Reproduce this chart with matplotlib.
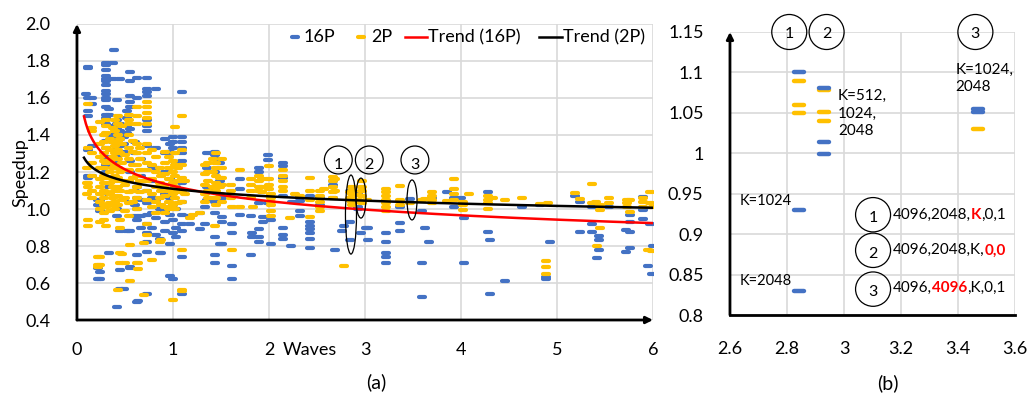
import numpy as np
import matplotlib
matplotlib.use("Agg")
import matplotlib.pyplot as plt
from matplotlib.patches import Ellipse
from matplotlib.markers import MarkerStyle

plt.rcParams['font.family'] = ['Lato', 'DejaVu Sans']

BLUE = '#4472C4'
ORANGE = '#FFC000'
GRID = '#d9d9d9'
RED = '#ff0000'

# ---- panel (a): speedup vs waves, column x -> list of y ----
cols16 = [0.09, 0.12, 0.16, 0.22, 0.24, 0.30, 0.33, 0.38, 0.39, 0.42, 0.45, 0.49, 0.52, 0.55,
          0.60, 0.63, 0.64, 0.67, 0.73, 0.78, 0.82, 0.86, 0.88, 0.92, 0.97, 1.00, 1.03, 1.09,
          1.18, 1.28, 1.33, 1.35, 1.44, 1.49, 1.51, 1.61, 1.62, 1.70, 1.81, 1.82, 1.90, 1.94,
          1.99, 2.02, 2.15, 2.23, 2.24, 2.32, 2.43, 2.53, 2.67, 2.69, 2.76, 2.78, 2.84, 2.93,
          2.96, 3.01, 3.03, 3.22, 3.36, 3.47, 3.59, 3.63, 3.67, 3.70, 3.85, 3.93, 3.995, 4.03,
          4.28, 4.30, 4.46, 4.64, 4.82, 4.89, 4.93, 5.19, 5.24, 5.36, 5.42, 5.44, 5.545, 5.72,
          5.76, 5.90, 5.95, 5.97, 5.985, 6.0]
vals16 = [[1.62],
          [1.77, 1.76, 1.60, 1.53, 1.50, 1.32, 1.18, 1.17],
          [1.60, 1.57, 1.34, 1.18],
          [0.68, 0.62, 1.05, 1.02],
          [1.05, 0.99, 0.66, 0.62],
          [1.79, 1.78, 1.75, 1.72, 1.70, 1.69, 1.67, 1.64, 1.62, 1.60, 1.59, 1.55, 1.51, 1.49,
           1.46, 1.40, 1.37, 1.33, 1.28, 1.24, 1.20],
          [1.54, 1.51, 0.76, 1.12, 1.08],
          [1.79, 1.70, 1.45, 1.40, 1.36],
          [1.86],
          [1.59, 1.48, 1.46, 1.44, 1.42, 1.40, 1.38, 1.36, 1.34, 1.32, 1.30, 1.28, 1.25, 1.22,
           1.00, 0.96, 0.47],
          [1.70, 1.46, 1.42, 1.38, 1.34, 1.30, 0.88, 0.67, 0.57],
          [1.39, 1.35, 1.31, 1.05, 0.57],
          [1.53, 1.49, 1.45, 1.41, 0.88],
          [1.74, 1.69, 1.61, 1.58, 1.55, 1.43, 1.26, 1.20, 0.88, 0.685, 0.68],
          [1.36, 1.30, 1.10, 1.02, 0.96],
          [1.71, 1.60, 1.12, 1.06, 1.00, 0.94, 0.75, 0.50],
          [0.505],
          [1.27, 1.18, 1.05, 0.96, 0.90],
          [1.71, 1.65, 1.63, 1.61, 1.48, 1.45, 1.42, 1.34, 1.10, 1.03, 0.97, 0.92, 0.87, 0.82,
           0.77, 0.54],
          [1.23, 1.15, 1.06, 0.98, 0.90],
          [1.65, 1.33, 1.22, 1.05, 0.95, 0.86],
          [1.12, 1.00, 0.84, 0.76],
          [0.76],
          [1.38, 1.30, 1.20, 1.08, 0.99, 0.93, 0.88],
          [1.35, 1.31, 1.16, 1.06, 0.97, 0.81, 0.64],
          [1.39, 1.36, 1.33, 1.30, 1.10, 1.02, 0.94, 0.87, 0.62],
          [1.25, 1.12, 1.00, 0.90, 0.85],
          [1.63, 1.39, 1.36, 1.33, 1.30, 1.26, 1.14, 1.04, 0.97, 0.92, 0.88, 0.74, 0.54],
          [0.96, 0.92],
          [0.98, 0.89],
          [1.01, 0.92],
          [1.30, 1.22, 1.12, 1.05],
          [1.31, 1.29, 1.27, 1.20, 1.10, 1.04, 0.98, 0.85, 0.75, 0.71],
          [1.25, 1.15, 0.81],
          [1.06, 0.955, 0.93, 0.81],
          [0.92, 0.87],
          [0.69, 0.62],
          [1.16, 1.11, 0.97],
          [0.96, 0.75],
          [0.87, 0.85],
          [1.22, 1.20, 1.03, 0.89, 0.85, 0.82],
          [0.955, 0.93],
          [1.29, 1.265, 1.03],
          [0.94, 0.81],
          [1.25, 1.23, 1.17, 1.07, 0.90, 0.86, 0.84],
          [0.80],
          [1.04],
          [1.06, 1.045, 0.99, 0.96],
          [1.07, 0.93, 0.91, 0.89, 0.87, 0.84, 0.79],
          [1.06, 1.02],
          [1.15, 1.13, 1.06],
          [0.78],
          [0.88],
          [0.91],
          [1.10, 0.93, 0.83],
          [1.08, 1.013, 1.00],
          [0.87],
          [0.90],
          [0.90, 0.83],
          [0.868, 0.823, 0.76, 0.74, 0.71],
          [1.01, 0.926, 0.883],
          [1.053],
          [0.99, 0.706, 0.526],
          [0.90],
          [0.82],
          [1.057],
          [1.094],
          [1.01, 1.06],
          [1.06],
          [0.95, 0.71],
          [1.09, 0.875],
          [0.83, 0.54],
          [0.61],
          [1.01],
          [1.02],
          [0.634, 0.62],
          [0.823],
          [1.07],
          [1.04, 0.875],
          [1.01, 0.92, 0.874],
          [0.737],
          [0.854, 0.83, 0.78],
          [1.009],
          [0.886, 0.766],
          [0.967, 0.93, 0.874, 0.79],
          [1.063, 0.995, 0.944],
          [0.694],
          [0.92],
          [0.648],
          [0.80]]

cols2 = [0.10, 0.12, 0.16, 0.22, 0.24, 0.28, 0.30, 0.34, 0.38, 0.40, 0.43, 0.45, 0.47, 0.50,
         0.54, 0.55, 0.58, 0.63, 0.64, 0.66, 0.70, 0.73, 0.78, 0.82, 0.86, 0.88, 0.92, 0.96,
         1.00, 1.02, 1.05, 1.09, 1.13, 1.18, 1.21, 1.28, 1.33, 1.37, 1.42, 1.44, 1.45, 1.49,
         1.51, 1.60, 1.62, 1.70, 1.81, 1.83, 1.90, 1.93, 1.995, 2.02, 2.15, 2.22, 2.27, 2.32,
         2.43, 2.53, 2.57, 2.67, 2.69, 2.78, 2.84, 2.86, 2.93, 2.97, 3.02, 3.22, 3.36, 3.47,
         3.59, 3.62, 3.70, 3.85, 3.93, 4.02, 4.08, 4.28, 4.33, 4.46, 4.64, 4.82, 4.89, 4.91,
         5.19, 5.24, 5.36, 5.41, 5.42, 5.45, 5.545, 5.725, 5.76, 5.90, 5.945, 5.97, 5.985, 6.0]
vals2 = [[1.22, 1.14, 1.08],
         [1.57, 1.33, 1.14, 1.12, 0.94, 0.91],
         [1.44, 1.42, 1.30, 1.25, 1.18, 1.10, 1.06],
         [0.74, 0.70, 0.685],
         [1.47, 1.35, 1.28, 1.22, 1.16, 1.12, 1.08, 1.04, 1.00, 0.93, 0.74, 0.70],
         [1.40, 1.36, 1.30, 1.26, 1.22, 1.18, 1.14, 1.10, 1.06, 1.02, 0.98, 0.94],
         [1.48, 1.45, 1.41, 1.33, 1.25, 1.17, 1.09, 1.01, 0.91],
         [1.38, 1.32, 1.26, 1.20, 1.14, 1.08, 1.03, 0.99],
         [1.44, 1.36, 1.28, 1.22, 1.16, 1.12, 1.06, 1.02],
         [1.48, 1.42, 1.34, 1.30, 1.24, 1.18, 1.15, 1.10, 1.04, 1.00],
         [1.50, 1.46, 1.40, 1.36, 1.32, 1.27, 1.22, 1.17, 1.12, 1.07, 1.02, 0.56],
         [1.38, 1.30, 1.20, 1.10, 0.94, 0.90, 0.76, 0.71],
         [1.45, 1.35, 1.25, 1.15, 1.05, 0.757],
         [1.29, 1.21, 1.13, 1.06, 0.99, 0.706],
         [1.51, 1.48, 1.46, 1.40, 1.33, 1.27, 1.21, 1.15, 1.09, 1.03, 0.96],
         [0.806, 0.61],
         [1.37, 1.31, 1.24, 1.17, 1.10, 1.04],
         [1.55, 1.50, 1.46, 1.35, 1.30, 1.24, 1.18, 1.12, 1.06, 1.00, 0.71],
         [0.71, 0.676],
         [1.33, 1.27, 1.21, 1.15, 1.09],
         [0.815, 0.535],
         [1.58, 1.55, 1.52, 1.49, 1.46, 1.35, 1.30, 1.25, 1.21, 1.15, 1.10, 1.05, 0.92, 0.86],
         [1.32, 1.24, 1.16, 1.08, 1.01, 0.725],
         [1.28, 1.20, 1.12, 1.04, 0.98],
         [1.22, 1.14, 1.06, 0.824],
         [1.18, 1.10, 1.02, 0.83],
         [1.31, 1.25, 1.19, 1.13, 1.07, 1.01, 0.98],
         [1.28, 1.22, 1.16, 1.10, 1.04, 1.00],
         [1.26, 1.20, 1.14, 1.08, 1.02, 0.51],
         [1.445, 1.30, 1.24, 1.18, 1.12, 1.06, 1.00],
         [1.22, 1.15, 1.09, 1.03],
         [1.50, 1.32, 1.24, 1.17, 1.10, 1.04, 0.78, 0.56, 0.555],
         [1.15, 1.08],
         [0.95],
         [0.97],
         [0.98],
         [1.24, 1.19, 1.13, 1.08, 1.04],
         [1.25, 1.20, 1.15, 1.10, 1.06],
         [1.27, 1.20, 1.12, 1.06],
         [0.91],
         [1.30, 1.25, 1.22, 1.18, 1.14, 1.10, 1.06, 1.02],
         [1.17, 1.12, 1.08],
         [1.27, 1.22, 1.17, 1.13, 1.04],
         [1.13, 1.10, 1.06],
         [1.01, 0.78],
         [1.21, 1.01],
         [1.16, 1.13, 1.10, 1.06],
         [1.01],
         [1.18, 1.15, 1.12, 1.10],
         [1.16, 1.12, 1.09],
         [1.235, 1.16, 1.13, 1.11],
         [1.08, 1.06, 1.04, 1.02, 0.99, 0.96],
         [1.21, 1.18, 1.15, 1.12, 1.10],
         [0.95],
         [1.08],
         [1.07],
         [1.17, 1.10, 1.05, 0.955],
         [1.10, 1.07, 1.04, 1.01, 0.99],
         [1.11],
         [1.175, 1.15, 1.12, 1.09, 1.06],
         [1.16, 1.10],
         [0.69],
         [1.09, 1.06, 1.05],
         [1.12, 1.10, 1.08, 1.04, 1.02],
         [1.078, 1.05, 1.04],
         [1.15, 1.12, 1.10, 1.07, 1.03],
         [1.05],
         [1.11, 1.09, 1.07, 1.05, 1.03, 1.01, 0.99],
         [1.124, 1.05, 1.02],
         [1.03],
         [1.05],
         [1.056],
         [1.094, 1.07, 1.05, 1.03],
         [1.045],
         [1.16, 1.11, 1.08, 1.05],
         [1.04, 1.02, 0.995],
         [1.08],
         [1.07, 1.05, 1.03, 1.00],
         [1.058],
         [1.05],
         [1.06],
         [1.027],
         [0.719, 0.688, 0.648],
         [1.034],
         [1.085],
         [1.056],
         [1.133, 1.034],
         [1.04],
         [0.80],
         [1.02, 0.995, 0.895],
         [1.057, 1.03],
         [1.05, 1.03, 1.01],
         [1.048, 0.985],
         [1.06, 1.04, 1.01],
         [0.78],
         [1.09, 1.034],
         [0.773],
         [1.01]]

# power trend lines y = a * x^b (as shown on the chart)
trend16 = (1.125, -0.11)
trend2 = (1.109, -0.054)
trend_x = (0.073, 6.0)

# ---- panel (b): zoom on the three configurations ----
zx16 = [2.842, 2.842, 2.842, 2.931, 2.931, 2.931, 3.471, 3.471]
zy16 = [1.10, 0.93, 0.83, 1.081, 1.0137, 0.999, 1.051, 1.055]
zx2 = [2.842, 2.842, 2.842, 2.931, 2.931, 2.931, 3.471]
zy2 = [1.09, 1.06, 1.05, 1.078, 1.0515, 1.04, 1.03]


def flat(cols, vals):
    xs = np.concatenate([[c] * len(v) for c, v in zip(cols, vals)])
    ys = np.concatenate(vals)
    return xs, ys


x16, y16 = flat(cols16, vals16)
x2, y2 = flat(cols2, vals2)

fig = plt.figure(figsize=(10.29, 3.94), dpi=100)
axa = fig.add_axes([0.0748, 0.1878, 0.5598, 0.7513])
axb = fig.add_axes([0.7094, 0.2005, 0.2770, 0.7183])

dash = MarkerStyle('_', capstyle='round')
FS = 13

# panel (a)
axa.plot(x16, y16, ls='none', marker=dash, ms=4.0, mew=3.0, color=BLUE, zorder=3)
axa.plot(x2, y2, ls='none', marker=dash, ms=4.0, mew=3.0, color=ORANGE, zorder=4)
tx = np.linspace(trend_x[0], trend_x[1], 300)
axa.plot(tx, trend16[0] * tx ** trend16[1], color=RED, lw=1.8, zorder=5)
axa.plot(tx, trend2[0] * tx ** trend2[1], color='black', lw=1.8, zorder=6)

axa.set_xlim(0, 6)
axa.set_ylim(0.4, 2.0)
axa.set_xticks(range(0, 7))
axa.set_yticks(np.arange(0.4, 2.01, 0.2))
axa.set_yticklabels([f'{v:.1f}' for v in np.arange(0.4, 2.01, 0.2)])
axa.grid(True, color=GRID, lw=1.2)
axa.set_axisbelow(True)
for s in axa.spines.values():
    s.set_visible(False)
axa.tick_params(length=0, labelsize=FS, colors='black')
axa.tick_params(axis='y', pad=19)
axa.tick_params(axis='x', pad=16)
axa.annotate('', xy=(1.0, 0), xytext=(0, 0), xycoords='axes fraction',
             arrowprops=dict(arrowstyle='-|>', color='black', lw=2, mutation_scale=10,
                             shrinkA=0, shrinkB=0), annotation_clip=False)
axa.annotate('', xy=(0, 1.0), xytext=(0, 0), xycoords='axes fraction',
             arrowprops=dict(arrowstyle='-|>', color='black', lw=2, mutation_scale=10,
                             shrinkA=0, shrinkB=0), annotation_clip=False)

# circles and ellipses in (a)
for cx, lab in [(2.722, '1'), (3.045, '2'), (3.52, '3')]:
    axa.add_patch(Ellipse((cx, 1.265), 0.29, 0.151, fill=False, ec='black', lw=0.9, zorder=7))
    axa.text(cx, 1.24, lab, ha='center', va='center', fontsize=11.5, zorder=7)
for cx, cy, w, h in [(2.854, 0.97, 0.115, 0.427), (2.958, 1.059, 0.104, 0.216),
                     (3.49, 1.049, 0.104, 0.216)]:
    axa.add_patch(Ellipse((cx, cy), w, h, fill=False, ec='black', lw=0.9, zorder=7))

# legend row across the top of (a)
tr = axa.transAxes
ly = 0.956
axa.plot([0.3785], [ly], transform=tr, ls='none', marker=dash, ms=4.0, mew=3.0, color=BLUE,
         clip_on=False)
axa.text(0.394, ly, '16P', transform=tr, ha='left', va='center', fontsize=FS)
axa.plot([0.493], [ly], transform=tr, ls='none', marker=dash, ms=4.0, mew=3.0, color=ORANGE,
         clip_on=False)
axa.text(0.510, ly, '2P', transform=tr, ha='left', va='center', fontsize=FS)
axa.plot([0.569, 0.608], [ly, ly], transform=tr, color=RED, lw=1.8, clip_on=False)
axa.text(0.610, ly, 'Trend (16P)', transform=tr, ha='left', va='center', fontsize=FS)
axa.plot([0.802, 0.842], [ly, ly], transform=tr, color='black', lw=1.8, clip_on=False)
axa.text(0.844, ly, 'Trend (2P)', transform=tr, ha='left', va='center', fontsize=FS)

fig.text(20 / 1029, 0.563, 'Speedup', rotation=90, ha='center', va='center', fontsize=FS)
fig.text(310 / 1029, 1 - 350 / 394, 'Waves', ha='center', va='center', fontsize=FS)
fig.text(376 / 1029, 1 - 382 / 394, '(a)', ha='center', va='center', fontsize=14)
fig.text(888 / 1029, 1 - 383 / 394, '(b)', ha='center', va='center', fontsize=14)

# panel (b)
axb.plot(zx2, zy2, ls='none', marker=dash, ms=6.5, mew=3.2, color=ORANGE, zorder=3)
axb.plot(zx16, zy16, ls='none', marker=dash, ms=6.5, mew=3.2, color=BLUE, zorder=4)
axb.set_xlim(2.6, 3.6)
axb.set_ylim(0.8, 1.15)
xt = np.arange(2.6, 3.61, 0.2)
yt = np.arange(0.8, 1.151, 0.05)
axb.set_xticks(xt)
axb.set_xticklabels([f'{v:g}' for v in np.round(xt, 2)])
axb.set_yticks(yt)
axb.set_yticklabels([f'{v:g}' for v in np.round(yt, 2)])
axb.grid(True, color=GRID, lw=1.2)
axb.set_axisbelow(True)
for s in axb.spines.values():
    s.set_visible(False)
axb.tick_params(length=0, labelsize=FS, colors='black')
axb.tick_params(axis='y', pad=19)
axb.tick_params(axis='x', pad=19)
axb.plot([0, 1], [0, 0], transform=axb.transAxes, color='black', lw=2, clip_on=False, zorder=8)
axb.annotate('', xy=(0, 1.0), xytext=(0, 0), xycoords='axes fraction',
             arrowprops=dict(arrowstyle='-|>', color='black', lw=2, mutation_scale=10,
                             shrinkA=0, shrinkB=0), annotation_clip=False)

for cx, lab in [(2.808, '1'), (2.939, '2'), (3.461, '3')]:
    axb.add_patch(Ellipse((cx, 1.15), 0.1228, 0.0433, fill=False, ec='black', lw=0.9,
                          clip_on=False, zorder=7))
    axb.text(cx, 1.148, lab, ha='center', va='center', fontsize=11.5, zorder=7)
for cy, lab in [(0.924, '1'), (0.880, '2'), (0.832, '3')]:
    axb.add_patch(Ellipse((3.102, cy), 0.1228, 0.0425, fill=False, ec='black', lw=0.9,
                          clip_on=False, zorder=7))
    axb.text(3.102, cy - 0.004, lab, ha='center', va='center', fontsize=11.5, zorder=7)

axb.text(2.979, 1.049, 'K=512,\n1024,\n2048', ha='left', va='center', fontsize=11,
         linespacing=1.3)
axb.text(3.392, 1.0926, 'K=1024,\n2048', ha='left', va='center', fontsize=11,
         linespacing=1.3)
axb.text(2.635, 0.9407, 'K=1024', ha='left', va='center', fontsize=10.5)
axb.text(2.635, 0.8417, 'K=2048', ha='left', va='center', fontsize=10.5)


def rich(ax, x, y, parts):
    t = ax.text(x, y, parts[0][0], color=parts[0][1], fontweight=parts[0][2],
                ha='left', va='center', fontsize=11)
    for s, c, w in parts[1:]:
        t = ax.annotate(s, xy=(1, 0), xycoords=t, ha='left', va='bottom', color=c,
                        fontweight=w, fontsize=11)


rich(axb, 3.172, 0.924, [('4096,2048,', 'black', 'normal'), ('K', RED, 'bold'),
                          (',0,1', 'black', 'normal')])
rich(axb, 3.172, 0.880, [('4096,2048,K,', 'black', 'normal'), ('0,0', RED, 'bold')])
rich(axb, 3.172, 0.834, [('4096,', 'black', 'normal'), ('4096', RED, 'bold'),
                          (',K,0,1', 'black', 'normal')])

fig.savefig('out.png', dpi=100)
